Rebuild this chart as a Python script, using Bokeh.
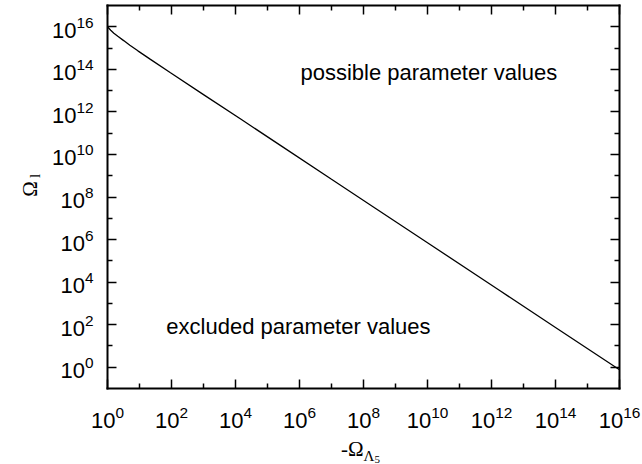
import math
from bokeh.plotting import figure
from bokeh.models import (Label, FixedTicker, LogAxis, Range1d, CustomJSTickFormatter,
                          LogTickFormatter)
from bokeh.embed import file_html
from bokeh.resources import INLINE

# Boundary curve: Omega_l as a function of -Omega_Lambda5
omega_lambda5 = [1.0, 1.26, 1.58, 2.1, 3.2, 5.0, 8.9, 22.0, 93.0, 1.0e3, 1.45e4,
                 2.6e5, 1.0e7, 2.4e8, 1.0e10, 1.9e12, 1.0e14, 1.0e16]
omega_l = [1.0e16, 6.9e15, 5.0e15, 3.55e15, 2.24e15, 1.35e15, 7.4e14, 2.95e14, 6.9e13,
           6.5e12, 4.6e11, 2.6e10, 6.8e8, 2.9e7, 7.1e5, 3.8e3, 74.0, 0.76]

x_major = [1e0, 1e2, 1e4, 1e6, 1e8, 1e10, 1e12, 1e14, 1e16]
x_minor = [1e1, 1e3, 1e5, 1e7, 1e9, 1e11, 1e13, 1e15]
y_major = [1e0, 1e2, 1e4, 1e6, 1e8, 1e10, 1e12, 1e14, 1e16]
y_minor = [1e1, 1e3, 1e5, 1e7, 1e9, 1e11, 1e13, 1e15]

x_lo, x_hi = 1e0, 1e16
y_lo, y_hi = 1e-1, 1e17

SANS = "Liberation Sans"
SERIF = "Liberation Serif"

# Canvas and the pixel box that holds the axes frame
W, H = 642, 464
BOX_L, BOX_R, BOX_T, BOX_B = 107, 619, 5, 388

# The plot frame fills the canvas; the visible box is drawn by axes pinned
# at the data limits, so titles around it stay inside the drawable area.
lx0, lx1 = math.log10(x_lo), math.log10(x_hi)
ly0, ly1 = math.log10(y_lo), math.log10(y_hi)
px_x = (BOX_R - BOX_L) / (lx1 - lx0)
px_y = (BOX_B - BOX_T) / (ly1 - ly0)
x_view = (10 ** (lx0 - BOX_L / px_x), 10 ** (lx1 + (W - BOX_R) / px_x))
y_view = (10 ** (ly0 - (H - BOX_B) / px_y), 10 ** (ly1 + BOX_T / px_y))

p = figure(width=W, height=H, x_axis_type="log", y_axis_type="log",
           x_range=Range1d(*x_view), y_range=Range1d(*y_view),
           min_border=0, toolbar_location=None, output_backend="svg")
p.grid.visible = False
p.outline_line_color = None
p.background_fill_color = "white"
p.border_fill_color = "white"

top = LogAxis()
right = LogAxis()
p.add_layout(top, "above")
p.add_layout(right, "right")
bottom = p.below[0]
left = p.left[0]

bottom.fixed_location = y_lo
top.fixed_location = y_hi
left.fixed_location = x_lo
right.fixed_location = x_hi

for ax in (bottom, top):
    ax.ticker = FixedTicker(ticks=x_major, minor_ticks=x_minor)
    ax.bounds = (x_lo, x_hi)
for ax in (left, right):
    ax.ticker = FixedTicker(ticks=y_major, minor_ticks=y_minor)
    ax.bounds = (y_lo, y_hi)

for ax in (bottom, top, left, right):
    ax.axis_label = None
    ax.major_tick_in = 9
    ax.major_tick_out = 0
    ax.minor_tick_in = 5
    ax.minor_tick_out = 0
    ax.axis_line_color = "black"
    ax.axis_line_width = 2
    ax.axis_line_cap = "square"
    ax.major_tick_line_width = 1.5
    ax.minor_tick_line_width = 1.5

# Labelled axes: 10^n tick labels
for ax in (bottom, left):
    ax.formatter = LogTickFormatter()
    ax.major_label_text_font = SANS
    ax.major_label_text_font_size = "22px"
    ax.major_label_text_color = "black"
bottom.major_label_standoff = 17
left.major_label_standoff = 14

# Mirror axes carry ticks only
blank = CustomJSTickFormatter(code="return ''")
for ax in (top, right):
    ax.formatter = blank
    ax.major_label_text_font_size = "1px"
    ax.major_label_standoff = 0

p.line(omega_lambda5, omega_l, line_color="black", line_width=1.3)

# Axis titles
x_mid = 1e8
p.add_layout(Label(x=x_mid, y=y_lo, text="-\u03a9", text_align="right", x_offset=0,
                   y_offset=-60, text_baseline="alphabetic", text_font=SERIF,
                   text_font_size="21px", text_color="black"))
p.add_layout(Label(x=x_mid, y=y_lo, text="\u039b", text_align="left", x_offset=0,
                   y_offset=-67, text_baseline="alphabetic", text_font=SERIF,
                   text_font_size="15px", text_color="black"))
p.add_layout(Label(x=x_mid, y=y_lo, text="5", text_align="left", x_offset=11,
                   y_offset=-71, text_baseline="alphabetic", text_font=SERIF,
                   text_font_size="11px", text_color="black"))

y_mid = 1e8
p.add_layout(Label(x=x_lo, y=y_mid, text="\u03a9", text_align="center",
                   text_baseline="middle", angle=90, angle_units="deg",
                   x_offset=-78, y_offset=8, text_font=SERIF,
                   text_font_size="21px", text_color="black"))
p.add_layout(Label(x=x_lo, y=y_mid, text="l", text_align="center",
                   text_baseline="middle", angle=90, angle_units="deg",
                   x_offset=-73, y_offset=21, text_font=SERIF,
                   text_font_size="15px", text_color="black"))

# Region annotations
p.add_layout(Label(x=1.07e6, y=7.0e13, text="possible parameter values",
                   text_align="left", text_baseline="alphabetic", text_font=SANS,
                   text_font_size="22px", text_color="black"))
p.add_layout(Label(x=69.0, y=80.0, text="excluded parameter values",
                   text_align="left", text_baseline="alphabetic", text_font=SANS,
                   text_font_size="22px", text_color="black"))

open("out.html", "w").write(file_html(p, INLINE))
